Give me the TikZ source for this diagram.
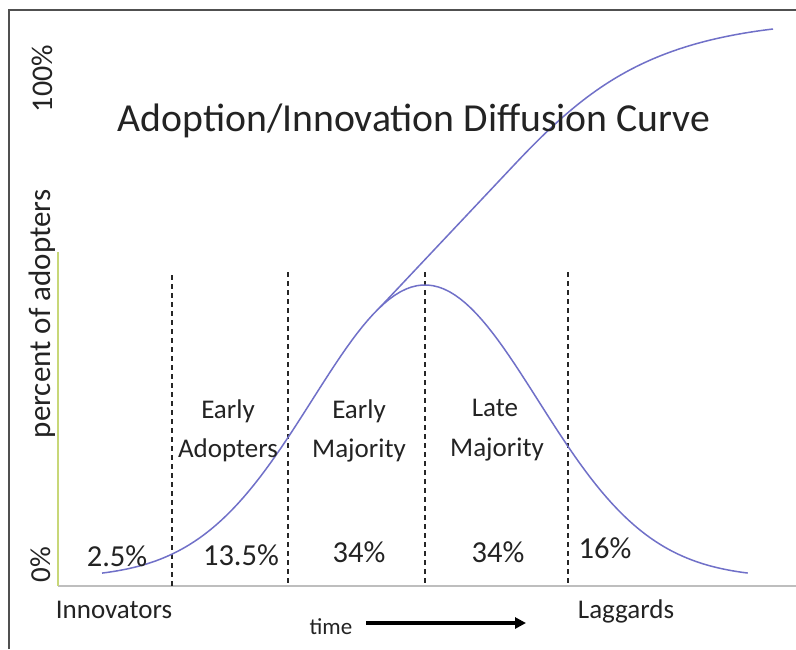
\documentclass[tikz,border=0pt]{standalone}
\usepackage{fontspec}
\setmainfont{Carlito}
\usetikzlibrary{arrows.meta}
\definecolor{curvecol}{RGB}{112,112,200}
\definecolor{axisgreen}{RGB}{200,215,120}
\definecolor{axisgray}{RGB}{190,190,190}
\definecolor{framecol}{RGB}{80,80,80}
\definecolor{txt}{RGB}{35,35,35}
\tikzset{
  lbl/.style={anchor=base, inner sep=0pt, text=txt, font=\fontsize{27}{32}\selectfont},
  pct/.style={anchor=base, inner sep=0pt, text=txt, font=\fontsize{30.5}{36}\selectfont},
  vlbl/.style={anchor=base, inner sep=0pt, text=txt, rotate=90},
  divider/.style={draw=black!85, line width=1.8pt, dash pattern=on 5pt off 4pt},
  curve/.style={draw=curvecol, line width=1.5pt},
}
\begin{document}
\begin{tikzpicture}[x=1pt, y=-1pt]
\useasboundingbox (0,0) rectangle (796,649);
\fill[white] (0,0) rectangle (796,649);
% frame
\draw[framecol, line width=2pt] (9,649) -- (9,10) -- (796,10);
% axes
\coordinate (ytop) at (58,252);
\coordinate (origin) at (58,586);
\coordinate (xend) at (796,586);
\draw[axisgray, line width=1.5pt] (origin) -- (xend);
\draw[axisgreen, line width=1.5pt] (ytop) -- (origin);
% dividers
\coordinate (d1t) at (172,275); \coordinate (d1b) at (172,586);
\coordinate (d2t) at (288,272); \coordinate (d2b) at (288,586);
\coordinate (d3t) at (425,272); \coordinate (d3b) at (425,586);
\coordinate (d4t) at (568,272); \coordinate (d4b) at (568,586);
\draw[divider] (d1t) -- (d1b);
\draw[divider] (d2t) -- (d2b);
\draw[divider] (d3t) -- (d3b);
\draw[divider] (d4t) -- (d4b);
% curves
\draw[curve] plot[domain=-2.858:2.858, samples=120, variable=\u] ({425+113*\u}, {578-293*exp(-\u*\u/2)});
\coordinate (s0) at (380,307.3);
\coordinate (s1) at (515,164);
\coordinate (s2) at (773,29);
\draw[curve] (s0) -- (s1) .. controls (585,89.8) and (643,44.6) .. (s2);
% title
\node[anchor=base, inner sep=0pt, text=txt, font=\fontsize{39.7}{46}\selectfont] (title) at (414,131) {Adoption/Innovation Diffusion Curve};
% y labels
\node[vlbl, font=\fontsize{30}{36}\selectfont] (y100) at (52,78.5) {100\%};
\node[vlbl, font=\fontsize{31}{36}\selectfont] (ylab) at (50,314) {percent of adopters};
\node[vlbl, font=\fontsize{29}{36}\selectfont] (y0) at (50,564.5) {0\%};
% category labels
\node[lbl] (ea1) at (228,418) {Early};
\node[lbl] (ea2) at (228,457) {Adopters};
\node[lbl] (em1) at (359,418) {Early};
\node[lbl] (em2) at (359,457) {Majority};
\node[lbl] (lm1) at (495,416) {Late};
\node[lbl] (lm2) at (497,456) {Majority};
% percentages
\node[pct] (p1) at (117,566) {2.5\%};
\node[pct] (p2) at (241,565) {13.5\%};
\node[pct] (p3) at (359,562) {34\%};
\node[pct] (p4) at (498,562) {34\%};
\node[pct] (p5) at (605,558) {16\%};
% bottom labels
\node[lbl] (inn) at (114,618) {Innovators};
\node[lbl] (lag) at (626,618) {Laggards};
\node[anchor=base, inner sep=0pt, text=txt, font=\fontsize{23}{28}\selectfont] (time) at (331,634) {time};
\coordinate (ta) at (366,623);
\coordinate (tb) at (526,623);
\draw[black, line width=3.5pt, -{Triangle[length=11pt, width=11pt]}] (ta) -- (tb);
\end{tikzpicture}
\end{document}
